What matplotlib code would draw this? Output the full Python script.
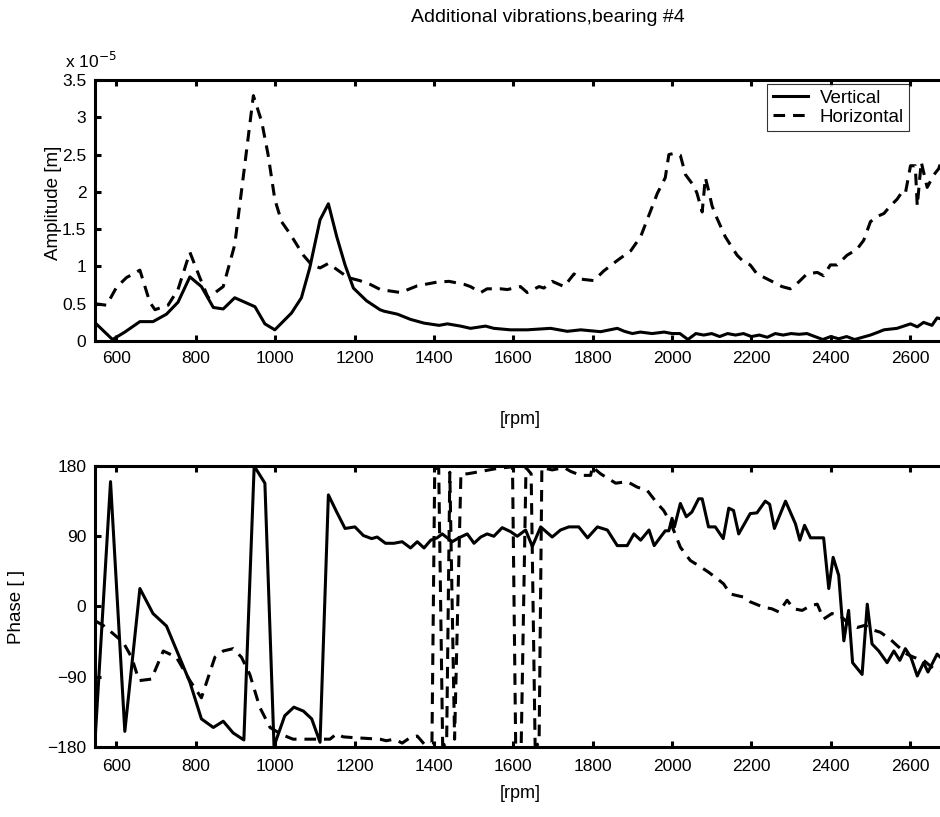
import matplotlib
matplotlib.use('Agg')
import matplotlib.pyplot as plt

# amplitude, vertical (solid) [x 1e-5 m]
amp_v_rpm = [545, 590, 621, 659, 692, 726, 755, 785, 814, 844, 869, 898, 949, 974, 999,
             1041, 1066, 1087, 1113, 1134, 1155, 1176, 1197, 1230, 1264, 1274, 1308, 1341,
             1375, 1413, 1434, 1467, 1492, 1530, 1551, 1593, 1635, 1694, 1736, 1770, 1820,
             1862, 1880, 1900, 1920, 1950, 1980, 2000, 2020, 2040, 2060, 2080, 2100, 2120,
             2140, 2160, 2180, 2200, 2220, 2240, 2260, 2280, 2300, 2320, 2340, 2360, 2380,
             2400, 2420, 2440, 2460, 2480, 2500, 2520, 2534, 2567, 2601, 2618, 2634, 2655,
             2668, 2690]
amp_v = [0.25, 0.02, 0.12, 0.26, 0.26, 0.36, 0.52, 0.86, 0.73, 0.45, 0.43, 0.58, 0.46, 0.23,
         0.15, 0.375, 0.58, 0.98, 1.625, 1.84, 1.40, 1.02, 0.71, 0.54, 0.42, 0.40, 0.36, 0.29,
         0.24, 0.21, 0.23, 0.20, 0.17, 0.20, 0.17, 0.15, 0.15, 0.17, 0.13, 0.15, 0.125, 0.17,
         0.13, 0.10, 0.12, 0.10, 0.12, 0.10, 0.10, 0.02, 0.10, 0.08, 0.10, 0.06, 0.10, 0.08,
         0.10, 0.06, 0.08, 0.05, 0.10, 0.08, 0.10, 0.09, 0.10, 0.06, 0.02, 0.06, 0.03, 0.06,
         0.02, 0.05, 0.08, 0.12, 0.15, 0.17, 0.23, 0.19, 0.25, 0.21, 0.31, 0.28]

# amplitude, horizontal (dashed)
amp_h_rpm = [545, 575, 600, 625, 659, 684, 697, 730, 755, 785, 810, 831, 869, 898, 923, 945,
             966, 982, 999, 1016, 1037, 1071, 1092, 1113, 1134, 1155, 1184, 1213, 1239, 1265,
             1316, 1358, 1408, 1438, 1476, 1492, 1518, 1534, 1568, 1585, 1618, 1635, 1665,
             1677, 1698, 1728, 1753, 1770, 1803, 1828, 1862, 1896, 1921, 1942, 1963, 1983,
             1992, 2008, 2021, 2034, 2055, 2063, 2076, 2084, 2092, 2101, 2113, 2134, 2147,
             2164, 2181, 2197, 2214, 2248, 2277, 2298, 2319, 2340, 2366, 2382, 2399, 2416,
             2441, 2466, 2483, 2500, 2517, 2534, 2550, 2567, 2580, 2588, 2601, 2613, 2618,
             2628, 2643, 2660, 2672, 2684, 2690]
amp_h = [0.50, 0.48, 0.72, 0.85, 0.95, 0.52, 0.42, 0.48, 0.69, 1.19, 0.85, 0.58, 0.73, 1.29,
         2.35, 3.29, 2.94, 2.50, 1.90, 1.60, 1.44, 1.15, 1.02, 0.98, 1.04, 0.96, 0.85, 0.81,
         0.76, 0.69, 0.65, 0.74, 0.79, 0.80, 0.76, 0.73, 0.65, 0.70, 0.70, 0.69, 0.73, 0.65,
         0.73, 0.71, 0.80, 0.73, 0.90, 0.83, 0.81, 0.94, 1.08, 1.21, 1.40, 1.69, 1.98, 2.19,
         2.50, 2.52, 2.49, 2.23, 2.08, 1.98, 1.73, 2.19, 2.02, 1.81, 1.65, 1.40, 1.29, 1.15,
         1.06, 1.02, 0.90, 0.81, 0.73, 0.70, 0.79, 0.90, 0.92, 0.875, 1.02, 1.02, 1.15, 1.23,
         1.35, 1.60, 1.67, 1.71, 1.81, 1.90, 2.00, 1.98, 2.35, 2.35, 1.81, 2.40, 2.06, 2.23,
         2.31, 2.50, 2.20]

# phase, vertical (solid) [deg]
ph_v_rpm = [545, 585, 621, 659, 692, 726, 785, 814, 844, 869, 894, 921, 947, 974, 997, 1024,
            1047, 1071, 1092, 1113, 1134, 1155, 1176, 1201, 1222, 1243, 1257, 1278, 1299,
            1320, 1341, 1358, 1375, 1392, 1408, 1421, 1446, 1463, 1484, 1501, 1518, 1534,
            1551, 1572, 1593, 1610, 1631, 1648, 1669, 1698, 1719, 1740, 1765, 1787, 1812,
            1837, 1862, 1887, 1904, 1921, 1942, 1955, 1971, 1983, 1992, 2000, 2006, 2021,
            2036, 2050, 2067, 2076, 2092, 2109, 2129, 2143, 2155, 2168, 2197, 2214, 2235,
            2246, 2258, 2286, 2311, 2322, 2334, 2349, 2382, 2395, 2406, 2420, 2433, 2445,
            2455, 2479, 2492, 2504, 2521, 2542, 2559, 2574, 2588, 2602, 2618, 2634, 2645,
            2668, 2676, 2690]
ph_v = [-180, 160, -160, 23, -9, -25, -97, -144, -155, -147, -162, -171, 180, 158, -179,
        -140, -129, -134, -144, -174, 143, 121, 100, 102, 91, 87, 89, 81, 81, 83, 75, 83, 75,
        85, 88, 93, 83, 88, 93, 81, 89, 93, 90, 101, 96, 90, 98, 77, 102, 89, 98, 102, 102,
        88, 102, 98, 78, 78, 93, 85, 98, 78, 89, 97, 97, 113, 102, 132, 115, 121, 138, 138,
        102, 102, 87, 126, 123, 93, 119, 120, 135, 131, 100, 135, 106, 85, 104, 88, 88, 23,
        63, 40, -44, -5, -72, -87, 3, -48, -57, -72, -57, -69, -54, -65, -89, -72, -84, -61,
        -65, -62]

# phase, horizontal (dashed)
ph_h_rpm = [545, 566, 592, 617, 638, 657, 688, 718, 751, 785, 814, 848, 869, 894, 915, 936,
            961, 987, 1016, 1045, 1079, 1113, 1138, 1155, 1171, 1197, 1264, 1280, 1300, 1320,
            1340, 1358, 1375, 1395, 1402, 1412, 1422, 1432, 1440, 1452, 1468, 1484, 1518,
            1560, 1598, 1606, 1620, 1632, 1645, 1655, 1665, 1672, 1698, 1728, 1745, 1770,
            1795, 1799, 1820, 1858, 1887, 1912, 1937, 1963, 1979, 1996, 2021, 2046, 2071,
            2092, 2113, 2130, 2147, 2181, 2197, 2231, 2252, 2269, 2290, 2307, 2328, 2349,
            2366, 2382, 2403, 2424, 2450, 2466, 2487, 2500, 2525, 2550, 2567, 2592, 2609,
            2634, 2660, 2676, 2690]
ph_h = [-18, -24, -35, -46, -65, -95, -93, -57, -65, -95, -117, -65, -57, -54, -65, -87,
        -129, -155, -164, -170, -170, -170, -170, -163, -167, -168, -170, -172, -170, -175,
        -168, -166, -176, -175, 176, 178, -178, -176, 172, -170, 170, 170, 173, 177, 179,
        -178, -175, 178, 170, -178, -176, 178, 175, 178, 173, 168, 168, 179, 170, 158, 160,
        153, 149, 132, 123, 108, 76, 59, 51, 44, 36, 29, 16, 12, 6, -1, -3, -7, 8, -3, -5,
        1, 3, -16, -9, -12, -24, -27, -24, -29, -33, -42, -50, -61, -65, -69, -80, -82, -84]

XTICKS = list(range(600, 2800, 200))
AMP_TICKS = [0, 0.5, 1, 1.5, 2, 2.5, 3, 3.5]
AMP_LABELS = ['0', '0.5', '1', '1.5', '2', '2.5', '3', '3.5']
PH_TICKS = [-180, -90, 0, 90, 180]
PH_LABELS = ['\u2212180', '\u221290', '0', '90', '180']

# narrow face if present, otherwise plain Liberation Sans
NARROW = ['Liberation Sans Narrow', 'Liberation Sans', 'DejaVu Sans']
DASH = (0, (3.8, 2.6))

plt.rcParams.update({
    'font.family': ['Liberation Sans', 'DejaVu Sans'],
    'axes.linewidth': 2.2,
    'xtick.direction': 'in',
    'ytick.direction': 'in',
    'xtick.major.size': 4,
    'ytick.major.size': 4,
    'xtick.major.width': 2.2,
    'ytick.major.width': 2.2,
})

fig = plt.figure(figsize=(9.4, 8.17), dpi=100)
ax1 = fig.add_axes([0.1007, 0.5826, 0.9055, 0.3195])
ax2 = fig.add_axes([0.1007, 0.0857, 0.9055, 0.3439])

ax1.plot(amp_v_rpm, amp_v, color='black', lw=2.2, label='Vertical')
ax1.plot(amp_h_rpm, amp_h, color='black', lw=2.2, ls=DASH, label='Horizontal')
ax2.plot(ph_v_rpm, ph_v, color='black', lw=2.2)
ax2.plot(ph_h_rpm, ph_h, color='black', lw=2.2, ls=DASH)

for ax in (ax1, ax2):
    ax.set_xlim(545, 2690)
    ax.set_xticks(XTICKS)
    ax.set_xticklabels([str(v) for v in XTICKS], family=NARROW, fontsize=12.5)
    ax.tick_params(top=True, right=True, pad=6)
    ax.set_xlabel('[rpm]', family=NARROW, fontsize=13)
ax1.tick_params(axis='x', pad=7)
ax2.tick_params(axis='x', pad=9)

ax1.xaxis.set_label_coords(0.5, -0.27)
ax2.xaxis.set_label_coords(0.5, -0.137)

ax1.set_ylim(0, 3.5)
ax1.set_yticks(AMP_TICKS)
ax1.set_yticklabels(AMP_LABELS, family=NARROW, fontsize=12.5)
ax1.set_ylabel('Amplitude [m]', fontsize=13.5)
ax1.yaxis.set_label_coords(-0.0384, 0.53)
ax1.text(-0.035, 1.035, r'x 10$^{-5}$', transform=ax1.transAxes, family=NARROW,
         fontsize=12.5, ha='left', va='bottom')

ax2.set_ylim(-180, 180)
ax2.set_yticks(PH_TICKS)
ax2.set_yticklabels(PH_LABELS, family=NARROW, fontsize=12.5)
ax2.set_ylabel('Phase [ ]', fontsize=13.5)
ax2.yaxis.set_label_coords(-0.082, 0.5)

leg = ax1.legend(loc='upper left', bbox_to_anchor=(0.79, 0.985), fontsize=13.5,
                 frameon=True, fancybox=False, borderpad=0.3, labelspacing=0.1,
                 handlelength=1.9, handletextpad=0.6, borderaxespad=0)
leg.get_frame().set_edgecolor('black')
leg.get_frame().set_linewidth(0.8)

fig.text(0.583, 0.978, 'Additional vibrations,bearing #4', family=NARROW,
         fontsize=14, ha='center', va='center')

fig.savefig('out.png', dpi=100, facecolor='white')
